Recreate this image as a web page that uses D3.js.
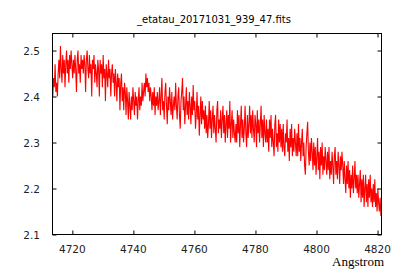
<!DOCTYPE html>
<html>
<head>
<meta charset="utf-8">
<script src="https://cdn.jsdelivr.net/npm/d3@7"></script>
<style>
  body { margin: 0; background: #fff; }
</style>
</head>
<body>
<div id="viz"></div>
<script>
// spectrum sampling (start wavelength and step, Angstrom)
const waveStart = 4713.6;
const waveStep = 0.25;

// flux values, one per sample (20 per 5 A)
const flux = [
  2.40, 2.44, 2.42, 2.47, 2.41, 2.43, 2.40, 2.45, 2.48, 2.44, 2.51, 2.46, 2.43, 2.49, 2.45, 2.48, 2.42, 2.47, 2.50, 2.45,
  2.48, 2.43, 2.49, 2.46, 2.50, 2.47, 2.44, 2.48, 2.45, 2.49, 2.46, 2.41, 2.48, 2.50, 2.45, 2.47, 2.43, 2.49, 2.46, 2.48,
  2.45, 2.49, 2.47, 2.41, 2.48, 2.50, 2.46, 2.44, 2.49, 2.45, 2.47, 2.40, 2.48, 2.46, 2.49, 2.43, 2.47, 2.45, 2.42, 2.48,
  2.46, 2.40, 2.48, 2.45, 2.47, 2.42, 2.49, 2.44, 2.46, 2.39, 2.47, 2.45, 2.42, 2.48, 2.44, 2.46, 2.40, 2.45, 2.47, 2.43,
  2.45, 2.40, 2.46, 2.43, 2.39, 2.45, 2.42, 2.44, 2.37, 2.43, 2.45, 2.39, 2.42, 2.37, 2.43, 2.41, 2.36, 2.42, 2.39, 2.35,
  2.41, 2.38, 2.35, 2.40, 2.37, 2.42, 2.39, 2.36, 2.41, 2.38, 2.40, 2.35, 2.39, 2.42, 2.37, 2.40, 2.38, 2.43, 2.39, 2.41,
  2.43, 2.40, 2.45, 2.42, 2.44, 2.41, 2.43, 2.39, 2.42, 2.40, 2.37, 2.41, 2.38, 2.42, 2.36, 2.40, 2.38, 2.41, 2.37, 2.39,
  2.42, 2.36, 2.40, 2.44, 2.37, 2.39, 2.35, 2.41, 2.43, 2.38, 2.34, 2.40, 2.37, 2.42, 2.39, 2.36, 2.41, 2.35, 2.38, 2.40,
  2.37, 2.43, 2.38, 2.35, 2.40, 2.42, 2.36, 2.33, 2.39, 2.41, 2.44, 2.37, 2.40, 2.34, 2.38, 2.42, 2.36, 2.39, 2.35, 2.41,
  2.38, 2.34, 2.40, 2.36, 2.425, 2.37, 2.39, 2.33, 2.36, 2.41, 2.35, 2.38, 2.315, 2.36, 2.40, 2.34, 2.39, 2.35, 2.37, 2.33,
  2.38, 2.32, 2.36, 2.31, 2.34, 2.39, 2.33, 2.37, 2.31, 2.35, 2.38, 2.32, 2.36, 2.33, 2.30, 2.37, 2.39, 2.32, 2.35, 2.33,
  2.37, 2.31, 2.35, 2.38, 2.32, 2.36, 2.30, 2.34, 2.37, 2.31, 2.36, 2.33, 2.39, 2.30, 2.34, 2.37, 2.31, 2.35, 2.32, 2.30,
  2.34, 2.30, 2.37, 2.32, 2.36, 2.29, 2.34, 2.38, 2.31, 2.35, 2.30, 2.33, 2.38, 2.32, 2.29, 2.36, 2.31, 2.34, 2.38, 2.32,
  2.36, 2.31, 2.37, 2.33, 2.30, 2.36, 2.34, 2.29, 2.37, 2.32, 2.35, 2.30, 2.34, 2.38, 2.31, 2.35, 2.29, 2.36, 2.32, 2.30,
  2.35, 2.30, 2.33, 2.28, 2.35, 2.31, 2.36, 2.29, 2.33, 2.30, 2.27, 2.34, 2.36, 2.29, 2.32, 2.28, 2.35, 2.30, 2.34, 2.29,
  2.33, 2.28, 2.34, 2.29, 2.27, 2.32, 2.30, 2.35, 2.28, 2.31, 2.26, 2.33, 2.29, 2.34, 2.27, 2.31, 2.28, 2.33, 2.30, 2.27,
  2.32, 2.27, 2.34, 2.28, 2.31, 2.26, 2.30, 2.33, 2.27, 2.30, 2.25, 2.23, 2.29, 2.32, 2.345, 2.28, 2.25, 2.30, 2.26, 2.31,
  2.28, 2.24, 2.30, 2.25, 2.29, 2.23, 2.27, 2.31, 2.24, 2.28, 2.22, 2.29, 2.25, 2.30, 2.23, 2.27, 2.24, 2.29, 2.26, 2.23,
  2.28, 2.24, 2.29, 2.22, 2.26, 2.23, 2.28, 2.25, 2.21, 2.27, 2.29, 2.23, 2.26, 2.22, 2.28, 2.25, 2.21, 2.27, 2.24, 2.28,
  2.25, 2.21, 2.26, 2.22, 2.19, 2.25, 2.21, 2.26, 2.20, 2.24, 2.18, 2.23, 2.20, 2.25, 2.19, 2.22, 2.26, 2.20, 2.23, 2.19,
  2.23, 2.18, 2.21, 2.24, 2.17, 2.22, 2.18, 2.23, 2.16, 2.20, 2.23, 2.17, 2.21, 2.16, 2.22, 2.18, 2.23, 2.17, 2.20, 2.16,
  2.21, 2.17, 2.22, 2.16, 2.19, 2.15, 2.20, 2.17, 2.15, 2.18, 2.14
];

const xTicks = [4720, 4740, 4760, 4780, 4800, 4820];
const yTicks = [2.1, 2.2, 2.3, 2.4, 2.5];

const title = "_etatau_20171031_939_47.fits";
const xLabel = "Angstrom";

const width = 400;
const height = 280;
const padL = 52.5, padR = 381.5, padT = 33.5, padB = 234.5;

const svg = d3.select("#viz").append("svg")
    .attr("width", width)
    .attr("height", height);

const x = d3.scaleLinear().domain([4713.5, 4821.3]).range([padL, padR]);
const y = d3.scaleLinear().domain([2.1, 2.537]).range([padB, padT]);

const data = flux.map((f, i) => ({ w: waveStart + i * waveStep, f: f }));

// the spectrum
svg.append("path")
    .datum(data)
    .attr("fill", "none")
    .attr("stroke", "#ff0000")
    .attr("stroke-width", 1.1)
    .attr("d", d3.line().x(d => x(d.w)).y(d => y(d.f)));

// frame with inward ticks on every side
const tick = 4;
svg.append("g").attr("transform", `translate(0,${padB})`)
    .call(d3.axisTop(x).tickValues(xTicks).tickSize(tick).tickFormat(""))
    .call(g => g.select(".domain").remove());
svg.append("g").attr("transform", `translate(0,${padT})`)
    .call(d3.axisBottom(x).tickValues(xTicks).tickSize(tick).tickFormat(""))
    .call(g => g.select(".domain").remove());
svg.append("g").attr("transform", `translate(${padL},0)`)
    .call(d3.axisRight(y).tickValues(yTicks).tickSize(tick).tickFormat(""))
    .call(g => g.select(".domain").remove());
svg.append("g").attr("transform", `translate(${padR},0)`)
    .call(d3.axisLeft(y).tickValues(yTicks).tickSize(tick).tickFormat(""))
    .call(g => g.select(".domain").remove());

svg.append("rect")
    .attr("x", padL).attr("y", padT)
    .attr("width", padR - padL).attr("height", padB - padT)
    .attr("fill", "none").attr("stroke", "#000").attr("stroke-width", 1);

// tick labels
svg.selectAll(".xl").data(xTicks).enter().append("text")
    .attr("x", d => x(d)).attr("y", 253)
    .attr("text-anchor", "middle")
    .style("font-family", "DejaVu Sans, sans-serif")
    .style("font-size", "10.5px")
    .attr("fill", "#222")
    .text(d => d);

svg.selectAll(".yl").data(yTicks).enter().append("text")
    .attr("x", 40).attr("y", d => y(d) + 4)
    .attr("text-anchor", "end")
    .style("font-family", "DejaVu Sans, sans-serif")
    .style("font-size", "10.5px")
    .attr("fill", "#222")
    .text(d => d3.format(".1f")(d));

svg.append("text")
    .attr("x", 214).attr("y", 23)
    .attr("text-anchor", "middle")
    .style("font-family", "DejaVu Sans, sans-serif")
    .style("font-size", "10px")
    .text(title);

svg.append("text")
    .attr("x", 384).attr("y", 266)
    .attr("text-anchor", "end")
    .style("font-family", "'Liberation Serif', serif")
    .style("font-size", "13px")
    .text(xLabel);
</script>
</body>
</html>
